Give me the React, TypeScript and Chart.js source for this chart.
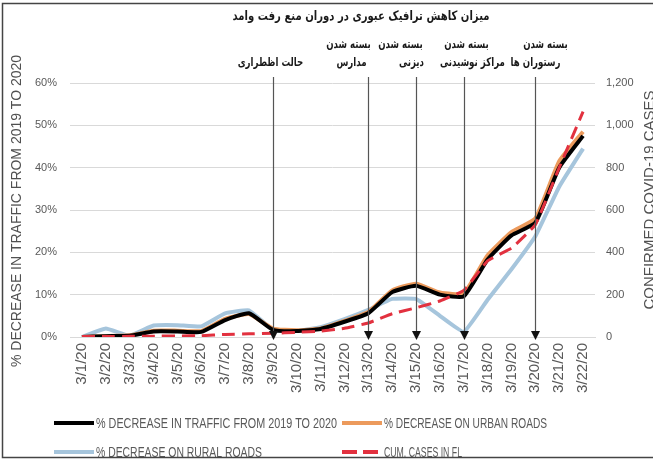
import React, { useEffect, useRef } from 'react';
import { Chart, registerables } from 'chart.js';

Chart.register(...registerables);

// ---------- data ----------
const dates = [
  '3/1/20', '3/2/20', '3/3/20', '3/4/20', '3/5/20', '3/6/20', '3/7/20', '3/8/20',
  '3/9/20', '3/10/20', '3/11/20', '3/12/20', '3/13/20', '3/14/20', '3/15/20',
  '3/16/20', '3/17/20', '3/18/20', '3/19/20', '3/20/20', '3/21/20', '3/22/20',
];
const totalDecrease = [0, 0.2, 0.3, 1.3, 1.3, 1.2, 4.0, 5.6, 1.7, 1.4, 1.9, 3.6, 5.6, 10.6, 12.1, 10.0, 9.6, 18.3, 24.0, 27.0, 40.0, 47.5];
const urbanDecrease = [0, 0.2, 0.4, 1.5, 1.5, 1.4, 4.3, 5.4, 2.0, 1.6, 2.0, 3.8, 5.9, 11.0, 12.6, 10.5, 10.3, 19.3, 24.8, 28.0, 41.5, 48.5];
const ruralDecrease = [0, 2.0, 0.3, 2.7, 2.8, 2.5, 5.6, 6.3, 1.7, 1.4, 2.3, 4.2, 6.4, 9.0, 9.0, 5.0, 1.2, 8.8, 16.0, 23.8, 35.5, 44.5];
const cumCases = [2, 2, 3, 4, 5, 6, 12, 15, 18, 22, 28, 41, 66, 110, 138, 170, 220, 360, 420, 530, 800, 1065];

const seriesNames = [
  '% DECREASE IN TRAFFIC FROM 2019 TO 2020',
  '% DECREASE ON URBAN ROADS',
  '% DECREASE ON RURAL ROADS',
  'CUM. CASES IN FL',
];

const leftMax = 60;
const leftStep = 10;
const rightMax = 1200;
const rightStep = 200;

const eventDates = ['3/9/20', '3/13/20', '3/15/20', '3/17/20', '3/20/20'];
const eventLine1 = ['', 'بسته شدن', 'بسته شدن', 'بسته شدن', 'بسته شدن'];
const eventLine2 = ['حالت اظطراری', 'مدارس', 'دیزنی', 'مراکز نوشیدنی', 'رستوران ها'];

const chartTitle = 'میزان کاهش ترافیک عبوری در دوران منع رفت وامد';
const leftAxisTitle = '% DECREASE IN TRAFFIC FROM 2019 TO 2020';
const rightAxisTitle = 'CONFIRMED COVID-19 CASES';

// ---------- styles ----------
const C_BLACK = '#000000';
const C_ORANGE = '#EC9A5C';
const C_BLUE = '#A6C5DC';
const C_RED = '#E2313F';
const C_TEXT = '#595959';
const LATIN = '"Liberation Sans", Arial, sans-serif';
const PERSIAN = '"DejaVu Sans", sans-serif';
const CONDENSE = 0.72;
const eventOffsets1 = [0, -20, -16, 2, 10];
const eventOffsets2 = [-3, -17, -5, 8, 0];

const decorPlugin = {
  id: 'decor',
  afterDatasetsDraw(chart: any) {
    const ctx = chart.ctx as CanvasRenderingContext2D;
    const xs = chart.scales.x;
    const ys = chart.scales.y;
    const zeroY = ys.getPixelForValue(0);
    ctx.save();

    // event arrows
    eventDates.forEach((d, i) => {
      const x = Math.round(xs.getPixelForValue(dates.indexOf(d))) + 0.5;
      ctx.strokeStyle = '#555555';
      ctx.lineWidth = 1.2;
      ctx.beginPath();
      ctx.moveTo(x, 77);
      ctx.lineTo(x, zeroY - 5);
      ctx.stroke();
      ctx.fillStyle = '#111111';
      ctx.beginPath();
      ctx.moveTo(x - 4.5, zeroY - 6);
      ctx.lineTo(x + 4.5, zeroY - 6);
      ctx.lineTo(x, zeroY + 3);
      ctx.closePath();
      ctx.fill();

      ctx.fillStyle = '#1a1a1a';
      ctx.font = `bold 12px ${PERSIAN}`;
      ctx.textAlign = 'center';
      ctx.textBaseline = 'middle';
      if (eventLine1[i]) {
        const w = ctx.measureText(eventLine1[i]).width * CONDENSE;
        ctx.fillText(eventLine1[i], x + eventOffsets1[i], 45, w);
      }
      if (eventLine2[i]) {
        const w = ctx.measureText(eventLine2[i]).width * CONDENSE;
        ctx.fillText(eventLine2[i], x + eventOffsets2[i], 63, w);
      }
    });

    // title
    ctx.font = `bold 13px ${PERSIAN}`;
    ctx.fillStyle = '#1a1a1a';
    ctx.textAlign = 'center';
    ctx.textBaseline = 'middle';
    ctx.fillText(chartTitle, 361, 17, 257);

    // axis titles
    ctx.fillStyle = '#505050';
    ctx.font = `15px ${LATIN}`;
    ctx.save();
    ctx.translate(17, 211);
    ctx.rotate(-Math.PI / 2);
    ctx.fillText(leftAxisTitle, 0, 0, 312);
    ctx.restore();
    ctx.save();
    ctx.translate(650, 200);
    ctx.rotate(-Math.PI / 2);
    ctx.fillText(rightAxisTitle, 0, 0, 230);
    ctx.restore();

    // legend
    const items = [
      { col: 0, row: 0, color: C_BLACK, dash: [] as number[], w: 241 },
      { col: 1, row: 0, color: C_ORANGE, dash: [] as number[], w: 163 },
      { col: 0, row: 1, color: C_BLUE, dash: [] as number[], w: 166 },
      { col: 1, row: 1, color: C_RED, dash: [15, 6], w: 78 },
    ];
    const colX = [54, 342];
    const rowY = [423, 452];
    ctx.font = `14px ${LATIN}`;
    ctx.textAlign = 'left';
    items.forEach((it, i) => {
      const x0 = colX[it.col];
      const y = rowY[it.row];
      ctx.strokeStyle = it.color;
      ctx.lineWidth = 4;
      ctx.setLineDash(it.dash);
      ctx.beginPath();
      ctx.moveTo(x0, y);
      ctx.lineTo(x0 + 40, y);
      ctx.stroke();
      ctx.setLineDash([]);
      ctx.fillStyle = C_TEXT;
      ctx.fillText(seriesNames[i], x0 + 42, y + 1, it.w);
    });

    // frame
    ctx.strokeStyle = '#444444';
    ctx.lineWidth = 1.5;
    ctx.strokeRect(2.5, 3.5, 670, 454);
    ctx.restore();
  },
};

export default function App() {
  const ref = useRef<HTMLCanvasElement>(null);
  useEffect(() => {
    document.body.style.margin = '0';
    const canvas = ref.current!;
    const chart = new Chart(canvas, {
      type: 'line',
      data: {
        labels: dates,
        datasets: [
          {
            label: seriesNames[3], data: cumCases, yAxisID: 'y1', borderColor: C_RED,
            borderWidth: 3, borderDash: [13, 7], pointRadius: 0, tension: 0.1, order: 0,
          },
          {
            label: seriesNames[0], data: totalDecrease, yAxisID: 'y', borderColor: C_BLACK,
            borderWidth: 4, pointRadius: 0, tension: 0.15, order: 1, borderJoinStyle: 'round',
          },
          {
            label: seriesNames[1], data: urbanDecrease, yAxisID: 'y', borderColor: C_ORANGE,
            borderWidth: 4, pointRadius: 0, tension: 0.15, order: 2, borderJoinStyle: 'round',
          },
          {
            label: seriesNames[2], data: ruralDecrease, yAxisID: 'y', borderColor: C_BLUE,
            borderWidth: 4, pointRadius: 0, tension: 0.1, order: 3, borderJoinStyle: 'round',
          },
        ],
      },
      options: {
        animation: false,
        responsive: false,
        devicePixelRatio: 1,
        layout: { padding: { top: 83, bottom: 52, left: 0, right: 0 } },
        plugins: { legend: { display: false }, tooltip: { enabled: false } },
        scales: {
          x: {
            offset: true,
            grid: { display: false, drawTicks: false },
            border: { display: true, color: '#d9d9d9' },
            ticks: {
              minRotation: 90, maxRotation: 90, autoSkip: false, padding: 6,
              color: C_TEXT, font: { family: LATIN, size: 15 },
            },
            afterFit: (s: any) => { s.height = 70; },
          },
          y: {
            position: 'left', min: 0, max: leftMax,
            ticks: { stepSize: leftStep, padding: 13, color: C_TEXT, font: { family: LATIN, size: 11 }, callback: (v: any) => `${v}%` },
            grid: { color: '#d9d9d9', drawTicks: false },
            border: { display: false },
            afterFit: (s: any) => { s.width = 70; },
          },
          y1: {
            position: 'right', min: 0, max: rightMax,
            ticks: { stepSize: rightStep, padding: 11, color: C_TEXT, font: { family: LATIN, size: 11 }, callback: (v: any) => Number(v).toLocaleString('en-US') },
            grid: { display: false, drawTicks: false },
            border: { display: false },
            afterFit: (s: any) => { s.width = 58; },
          },
        },
      },
      plugins: [decorPlugin],
    } as any);
    return () => chart.destroy();
  }, []);
  return <canvas ref={ref} width={653} height={459} style={{ display: 'block', width: 653, height: 459 }} />;
}
